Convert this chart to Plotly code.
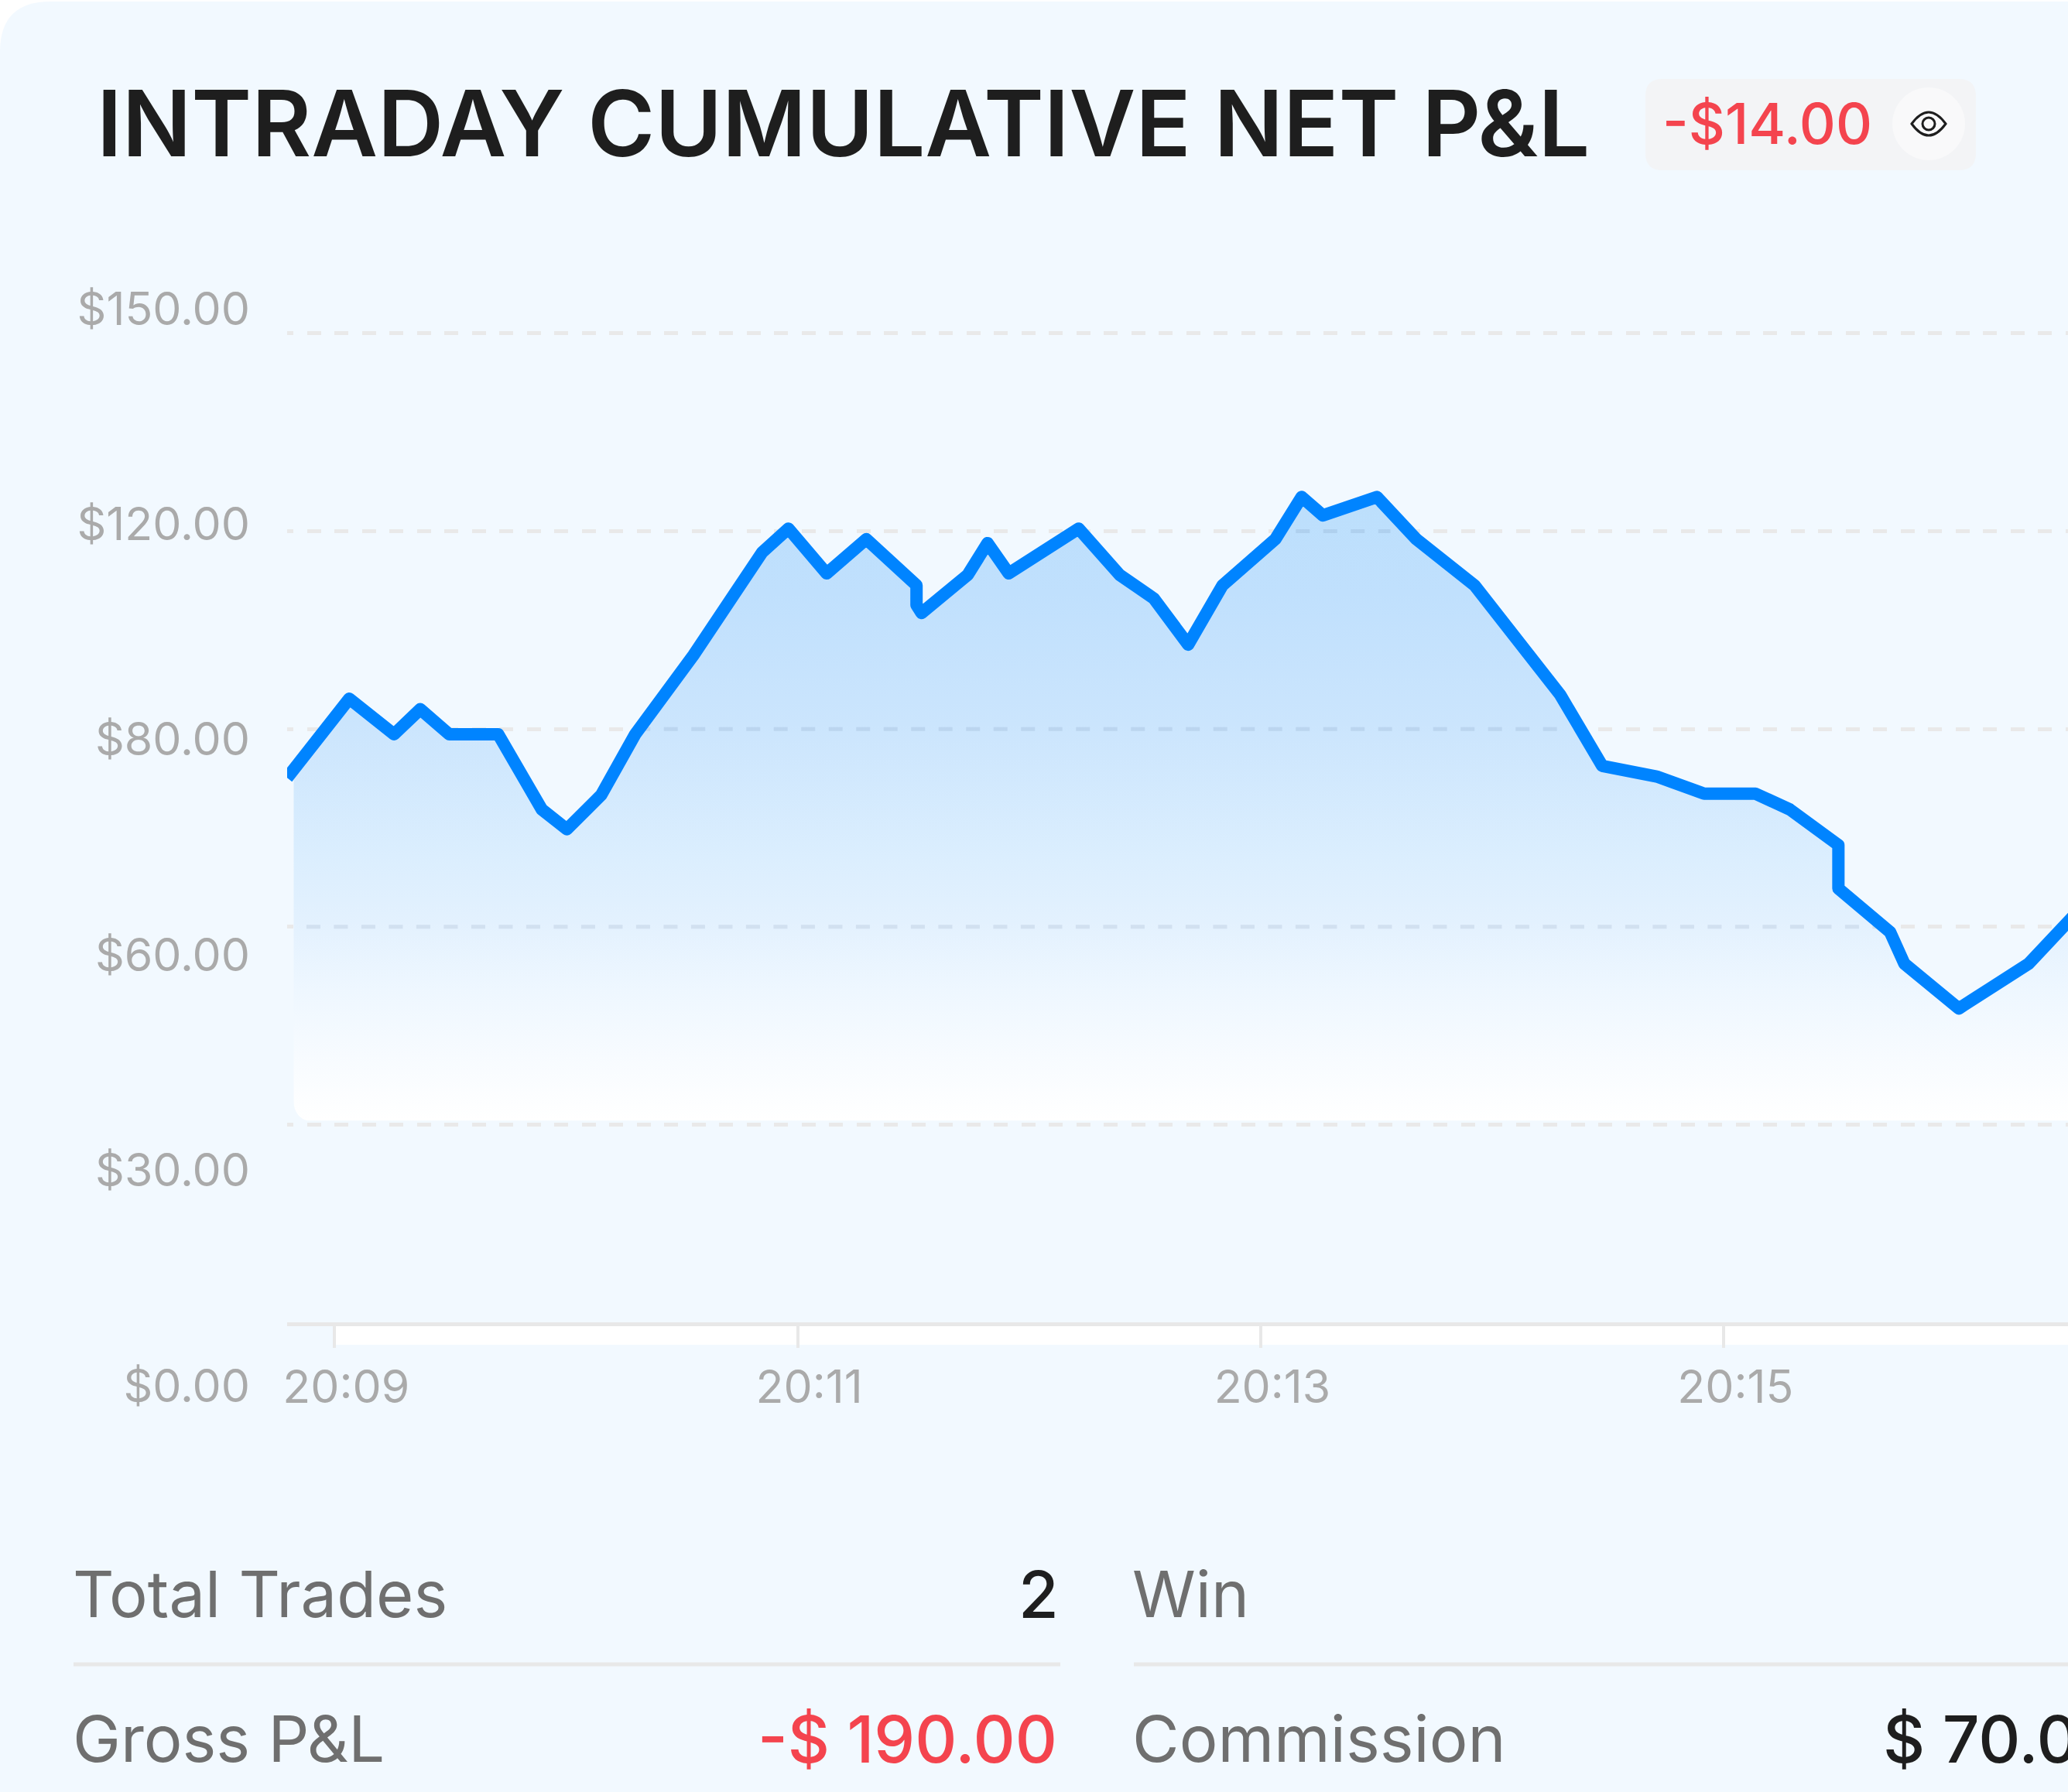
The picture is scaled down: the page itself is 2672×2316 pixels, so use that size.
import plotly.graph_objects as go

WIDTH = 2672
HEIGHT = 2316
DAY = "2024-01-01 "

# values
times = [
    "20:08:47.7", "20:09:03.8", "20:09:15.4", "20:09:22.2", "20:09:29.7", "20:09:42.4",
    "20:09:53.7", "20:10:00.2", "20:10:09.1", "20:10:17.9", "20:10:33.0", "20:10:50.8",
    "20:10:57.6", "20:11:07.5", "20:11:17.8", "20:11:30.8", "20:11:30.8", "20:11:32.1",
    "20:11:44.1", "20:11:49.2", "20:11:54.7", "20:12:12.8", "20:12:23.4", "20:12:32.3",
    "20:12:41.2", "20:12:50.1", "20:13:03.8", "20:13:10.6", "20:13:16.1", "20:13:30.1",
    "20:13:40.3", "20:13:55.4", "20:14:17.6", "20:14:28.5", "20:14:42.6", "20:14:54.9",
    "20:15:08.2", "20:15:17.1", "20:15:29.7", "20:15:29.7", "20:15:43.1", "20:15:46.8",
    "20:16:00.9", "20:16:19.0", "20:16:31.2",
]
net_pnl = [
    82.6, 94.6, 89.2, 93.0, 89.2, 89.2,
    77.8, 74.8, 80.0, 89.2, 101.2, 116.8,
    120.4, 113.6, 118.8, 111.8, 108.8, 107.6,
    113.4, 118.2, 113.6, 120.4, 113.4, 109.8,
    102.8, 111.8, 118.8, 125.2, 122.4, 125.2,
    118.8, 111.8, 95.2, 84.4, 82.8, 80.2,
    80.2, 77.8, 72.4, 65.8, 59.2, 54.4,
    47.6, 54.4, 62.0,
]
area_start_time = "20:08:49.4"
area_start_value = 84.0
area_floor = 30.6

grid_values = [0, 30, 60, 90, 120, 150]
y_labels = ["$0.00", "$30.00", "$60.00", "$80.00", "$120.00", "$150.00"]
x_ticks = ["20:09:00", "20:11:00", "20:13:00", "20:15:00"]
x_range = ["20:08:47.7", "20:16:29.2"]

# stretches of the gridlines that show through the area
area_grid_values = [120, 90, 60]
area_grid_starts = ["20:13:09.1", "20:10:18.2", "20:08:52.7"]
area_grid_ends = ["20:13:33.6", "20:14:17.7", "20:15:42.1"]

title = "INTRADAY CUMULATIVE NET P&L"
badge_value = "-$14.00"
rows = [
    ("Total Trades", "2", "#1E1E1E", 92, 1370, 2060),
    ("Gross P&L", "-$ 190.00", "#F4444E", 92, 1368, 2247),
]
rows_right = [("Win", 1461, 2060), ("Commission", 1461, 2247)]
commission = "$ 70.00"

FONT = "Inter"
RED = "#F4444E"
GRID = "#E9E9E9"
CARD = "#F2F9FF"
GRID_DASH = "8px,17.5px," + "18px,17.5px," * 70 + "18px"


# pixel position on the page -> paper coordinates
def fx(x):
    return x / WIDTH


def fy(y):
    return 1 - y / HEIGHT


def path(*parts):
    out = []
    for p in parts:
        if isinstance(p, str):
            out.append(p)
        else:
            out.append("%.5f,%.5f" % (fx(p[0]), fy(p[1])))
    return " ".join(out)


def text(s, x, y, size, color, anchor="left", weight=400):
    fig.add_annotation(
        text=s,
        x=fx(x),
        y=fy(y),
        xref="paper",
        yref="paper",
        xanchor=anchor,
        yanchor="middle",
        showarrow=False,
        font=dict(family=FONT, size=size, color=color, weight=weight),
    )


fig = go.Figure()

# invisible series that carries the left labels on their own axis
fig.add_trace(
    go.Scatter(
        x=[0] * len(y_labels),
        y=y_labels,
        xaxis="x2",
        yaxis="y2",
        mode="markers",
        marker=dict(opacity=0),
        hoverinfo="skip",
        showlegend=False,
    )
)

area_x = [DAY + area_start_time] + [DAY + t for t in times[1:]]
area_y = [area_start_value] + net_pnl[1:]

fig.add_trace(
    go.Scatter(
        x=area_x,
        y=[area_floor] * len(area_x),
        mode="lines",
        line=dict(width=0),
        hoverinfo="skip",
        showlegend=False,
    )
)
fig.add_trace(
    go.Scatter(
        x=area_x,
        y=area_y,
        mode="lines",
        line=dict(width=0),
        fill="tonexty",
        fillgradient=dict(
            type="vertical",
            colorscale=[
                [0, "#FFFFFF"],
                [0.106, "#F7FBFF"],
                [0.212, "#EEF7FF"],
                [0.318, "#E3F1FE"],
                [0.424, "#DBEEFE"],
                [0.636, "#CBE5FD"],
                [0.847, "#C0E0FD"],
                [1, "#BCDFFC"],
            ],
            start=area_floor,
            stop=125.2,
        ),
        hoverinfo="skip",
        showlegend=False,
    )
)

for value, t0, t1 in zip(area_grid_values, area_grid_starts, area_grid_ends):
    fig.add_trace(
        go.Scatter(
            x=[DAY + t0, DAY + t1],
            y=[value, value],
            mode="lines",
            line=dict(color="rgba(60,90,130,0.11)", width=5, dash="18px,17.5px"),
            hoverinfo="skip",
            showlegend=False,
        )
    )

fig.add_trace(
    go.Scatter(
        x=[DAY + t for t in times],
        y=net_pnl,
        mode="lines",
        line=dict(color="#0084FF", width=16),
        cliponaxis=False,
        showlegend=False,
    )
)

shapes = [
    # card with the rounded top left corner
    dict(
        type="path",
        path=path("M", (0, 67), "Q", (0, 2), (65, 2), "L", (WIDTH, 2), "L", (WIDTH, HEIGHT), "L", (0, HEIGHT), "Z"),
        fillcolor=CARD,
        line_width=0,
        layer="below",
    ),
    # white strip under the time axis
    dict(
        type="rect",
        x0=fx(434), x1=1, y0=fy(1738), y1=fy(1709),
        fillcolor="white",
        line_width=0,
        layer="below",
    ),
    # rounded bottom left corner of the area
    dict(
        type="path",
        path=path("M", (379, 1420), "Q", (379, 1450), (409, 1450), "L", (379, 1450), "Z"),
        fillcolor=CARD,
        line_width=0,
        layer="above",
    ),
    # value badge
    dict(
        type="path",
        path=path(
            "M", (2126, 124), "Q", (2126, 102), (2148, 102), "L", (2531, 102), "Q", (2553, 102), (2553, 124),
            "L", (2553, 198), "Q", (2553, 220), (2531, 220), "L", (2148, 220), "Q", (2126, 220), (2126, 198), "Z",
        ),
        fillcolor="#F3F4F6",
        line_width=0,
        layer="below",
    ),
    dict(
        type="circle",
        x0=fx(2445), x1=fx(2539), y0=fy(207), y1=fy(113),
        fillcolor="#F9F9FA",
        line_width=0,
        layer="below",
    ),
    # eye icon
    dict(
        type="path",
        path=path("M", (2470, 160), "Q", (2492, 130), (2514, 160), "Q", (2492, 190), (2470, 160), "Z"),
        line=dict(color="#1E1E1E", width=3),
        layer="above",
    ),
    dict(
        type="circle",
        x0=fx(2484), x1=fx(2500), y0=fy(168), y1=fy(152),
        line=dict(color="#1E1E1E", width=3),
        layer="above",
    ),
    # rules between the stat rows
    dict(type="line", x0=fx(95), x1=fx(1370), y0=fy(2151), y1=fy(2151), line=dict(color="#E8E8E8", width=5)),
    dict(type="line", x0=fx(1465), x1=1, y0=fy(2151), y1=fy(2151), line=dict(color="#E8E8E8", width=5)),
]
for s in shapes:
    s["xref"] = "paper"
    s["yref"] = "paper"

fig.update_layout(
    width=WIDTH,
    height=HEIGHT,
    margin=dict(l=0, r=0, t=0, b=0, autoexpand=False),
    paper_bgcolor="white",
    plot_bgcolor="rgba(0,0,0,0)",
    showlegend=False,
    shapes=shapes,
    font=dict(family=FONT),
    xaxis=dict(
        domain=[fx(371), 1],
        type="date",
        range=[DAY + x_range[0], DAY + x_range[1]],
        tickvals=[DAY + t for t in x_ticks],
        tickformat="%H:%M",
        showgrid=False,
        zeroline=False,
        showline=True,
        linecolor="#E8E8E8",
        linewidth=5,
        ticks="outside",
        ticklen=28,
        tickwidth=4,
        tickcolor="#E8E8E8",
        ticklabelshift=15,
        ticklabelstandoff=0,
        tickfont=dict(family=FONT, size=59, color="#AAAAAA"),
    ),
    yaxis=dict(
        # top of the domain sits a little above the last gridline, plotly drops one on the edge
        domain=[fy(1709), fy(421)],
        range=[0, 151.17],
        tickvals=grid_values,
        showticklabels=False,
        showgrid=True,
        gridcolor=GRID,
        gridwidth=5,
        griddash=GRID_DASH,
        zeroline=False,
    ),
    xaxis2=dict(domain=[fx(371), 1], range=[0, 1], visible=False, anchor="y2"),
    yaxis2=dict(
        domain=[fy(1791), fy(399)],
        type="category",
        categoryorder="array",
        categoryarray=y_labels,
        range=[0, 5],
        anchor="x2",
        showgrid=False,
        zeroline=False,
        ticks="",
        ticklabelstandoff=47,
        tickfont=dict(family=FONT, size=59, color="#AAAAAA"),
    ),
)

text(title, 123, 159, 118, "#1E1E1E", weight=600)
text(badge_value, 2146, 160, 73, RED, weight=500)

for label, value, color, x_left, x_right, y in rows:
    text(label, x_left, y, 83, "#6F6F6F")
    text(value, x_right, y, 84, color, anchor="right", weight=500)

for label, x_left, y in rows_right:
    text(label, x_left, y, 83, "#6F6F6F")

text(commission, 2431, 2247, 84, "#1E1E1E", weight=500)

fig.write_html(
    "out.html",
    config=dict(displayModeBar=False),
    post_script=(
        "document.body.style.margin='0';"
        "document.head.insertAdjacentHTML('beforeend',"
        "'<style>.scatterlayer .lines path{stroke-linejoin:round!important}</style>');"
    ),
)
